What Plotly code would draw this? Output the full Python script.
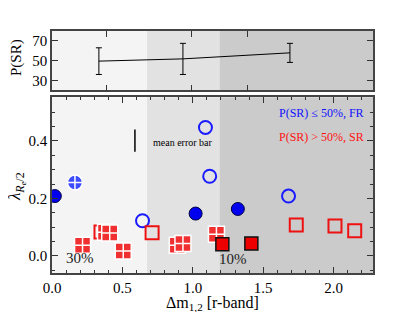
import plotly.graph_objects as go

# ---- data ----
# top panel: P(SR) per bin
top_x = [0.333, 0.93, 1.69]
top_p = [49.5, 51.8, 57.9]
top_err_plus = [13.5, 15.7, 9.6]
top_err_minus = [13.5, 15.8, 9.7]

# bottom panel: lambda_Re/2 vs delta m
blue_filled_x = [0.02, 1.02, 1.32]
blue_filled_y = [0.208, 0.147, 0.163]
blue_open_x = [0.643, 1.09, 1.12, 1.68]
blue_open_y = [0.122, 0.447, 0.277, 0.208]
blue_cross_x = [0.163]
blue_cross_y = [0.255]
red_open_x = [0.348, 0.711, 1.735, 2.01, 2.15]
red_open_y = [0.083, 0.080, 0.107, 0.104, 0.087]
red_filled_x = [1.21, 1.416]
red_filled_y = [0.040, 0.043]
red_cross_x = [0.217, 0.38, 0.41, 0.506, 0.89, 0.93, 1.168]
red_cross_y = [0.037, 0.082, 0.079, 0.017, 0.037, 0.043, 0.075]

bin_edges = [0.0, 0.675, 1.19, 2.28]
bin_colors = ["#f4f4f4", "#e2e2e2", "#cbcbcb"]

err_bar_x = [0.589, 0.589]
err_bar_y = [0.44, 0.362]

FONT = "Liberation Serif, DejaVu Serif, serif"

fig = go.Figure()

# bottom panel traces
fig.add_trace(go.Scatter(x=blue_cross_x, y=blue_cross_y, mode="markers",
    marker=dict(symbol="circle-cross", size=15, color="#3b4dff",
                line=dict(color="white", width=1.5)), xaxis="x", yaxis="y"))
fig.add_trace(go.Scatter(x=blue_open_x, y=blue_open_y, mode="markers",
    marker=dict(symbol="circle-open", size=13, color="#1a1aff",
                line=dict(width=2)), xaxis="x", yaxis="y"))
fig.add_trace(go.Scatter(x=blue_filled_x, y=blue_filled_y, mode="markers",
    marker=dict(symbol="circle", size=13, color="#0000ee",
                line=dict(color="#000044", width=1)), xaxis="x", yaxis="y"))
fig.add_trace(go.Scatter(x=red_open_x, y=red_open_y, mode="markers",
    marker=dict(symbol="square-open", size=13, color="#ee1111",
                line=dict(width=2)), xaxis="x", yaxis="y"))
fig.add_trace(go.Scatter(x=red_cross_x, y=red_cross_y, mode="markers",
    marker=dict(symbol="square-cross", size=16, color="#f03030",
                line=dict(color="white", width=1.5)), xaxis="x", yaxis="y"))
fig.add_trace(go.Scatter(x=red_filled_x, y=red_filled_y, mode="markers",
    marker=dict(symbol="square", size=13, color="#ee0000",
                line=dict(color="#111111", width=1.5)), xaxis="x", yaxis="y"))
fig.add_trace(go.Scatter(x=err_bar_x, y=err_bar_y, mode="lines",
    line=dict(color="black", width=1.5), xaxis="x", yaxis="y"))

# top panel
fig.add_trace(go.Scatter(x=top_x, y=top_p, mode="lines",
    line=dict(color="black", width=1),
    error_y=dict(type="data", array=top_err_plus, arrayminus=top_err_minus,
                 color="black", thickness=1, width=3),
    xaxis="x2", yaxis="y2"))

shapes = []
for i in range(3):
    for xr, yr in (("x", "y domain"), ("x2", "y2 domain")):
        shapes.append(dict(type="rect", xref=xr, yref=yr, x0=bin_edges[i], x1=bin_edges[i+1],
                           y0=0, y1=1, fillcolor=bin_colors[i], line=dict(width=0), layer="below"))

PLOT_H = 242.0
annotations = [
    dict(x=2.227, y=0.497, xref="x", yref="y", text="P(SR) ≤ 50%, FR", showarrow=False,
         xanchor="right", yanchor="middle", font=dict(family=FONT, size=12, color="#1111ff")),
    dict(x=2.227, y=0.414, xref="x", yref="y", text="P(SR) > 50%, SR", showarrow=False,
         xanchor="right", yanchor="middle", font=dict(family=FONT, size=12, color="#ff1111")),
    dict(x=0.70, y=0.394, xref="x", yref="y", text="mean error bar", showarrow=False,
         xanchor="left", yanchor="middle", font=dict(family=FONT, size=10, color="black")),
    dict(x=0.2, y=-0.008, xref="x", yref="y", text="30%", showarrow=False,
         xanchor="center", yanchor="middle", font=dict(family=FONT, size=15, color="#222")),
    dict(x=1.285, y=-0.01, xref="x", yref="y", text="10%", showarrow=False,
         xanchor="center", yanchor="middle", font=dict(family=FONT, size=15, color="#222")),
    # axis titles
    dict(x=0.5, y=-0.124, xref="paper", yref="paper", text="Δm<sub>1,2</sub> [r-band]",
         showarrow=False, xanchor="center", yanchor="middle",
         font=dict(family=FONT, size=16, color="black")),
    dict(x=0, y=(273 - 187) / PLOT_H, xref="paper", yref="paper", xshift=-36,
         text="<i>λ</i><sub><i>R<sub>e</sub></i>/2</sub>", textangle=-90,
         showarrow=False, xanchor="center", yanchor="middle",
         font=dict(family=FONT, size=17, color="black")),
    dict(x=0, y=(273 - 58) / PLOT_H, xref="paper", yref="paper", xshift=-35,
         text="P(SR)", textangle=-90,
         showarrow=False, xanchor="center", yanchor="middle",
         font=dict(family=FONT, size=15, color="black")),
]

axis_common = dict(showgrid=False, zeroline=False, showline=True, linecolor="#444444",
                   linewidth=1.5, mirror="ticks", ticks="inside", tickcolor="#333333",
                   tickfont=dict(family=FONT, size=15, color="black"))

# page body has an 8px margin, so the figure is drawn 8px smaller and offset
fig.update_layout(
    width=407, height=304, showlegend=False, autosize=False,
    font=dict(family=FONT, color="black"),
    margin=dict(l=44, r=42, t=23, b=39),
    paper_bgcolor="white", plot_bgcolor="white",
    shapes=shapes, annotations=annotations,
    xaxis=dict(axis_common, range=[0, 2.28], domain=[0, 1], anchor="y",
               tickvals=[0, 0.5, 1.0, 1.5, 2.0], tickformat=".1f", ticklen=6,
               minor=dict(dtick=0.1, ticks="inside", ticklen=3, tickcolor="#333333")),
    yaxis=dict(axis_common, range=[-0.06, 0.552], domain=[0, 0.726], anchor="x",
               tickvals=[0, 0.2, 0.4], tickformat=".1f", ticklen=6,
               minor=dict(dtick=0.05, ticks="inside", ticklen=3, tickcolor="#333333")),
    xaxis2=dict(axis_common, range=[0, 2.28], domain=[0, 1], anchor="y2",
                tickvals=[0.39, 0.99, 1.39], showticklabels=False, ticklen=6),
    yaxis2=dict(axis_common, range=[20, 80], domain=[0.755, 1], anchor="x2",
                tickvals=[30, 50, 70], ticklen=6),
)

fig.write_html("out.html")
